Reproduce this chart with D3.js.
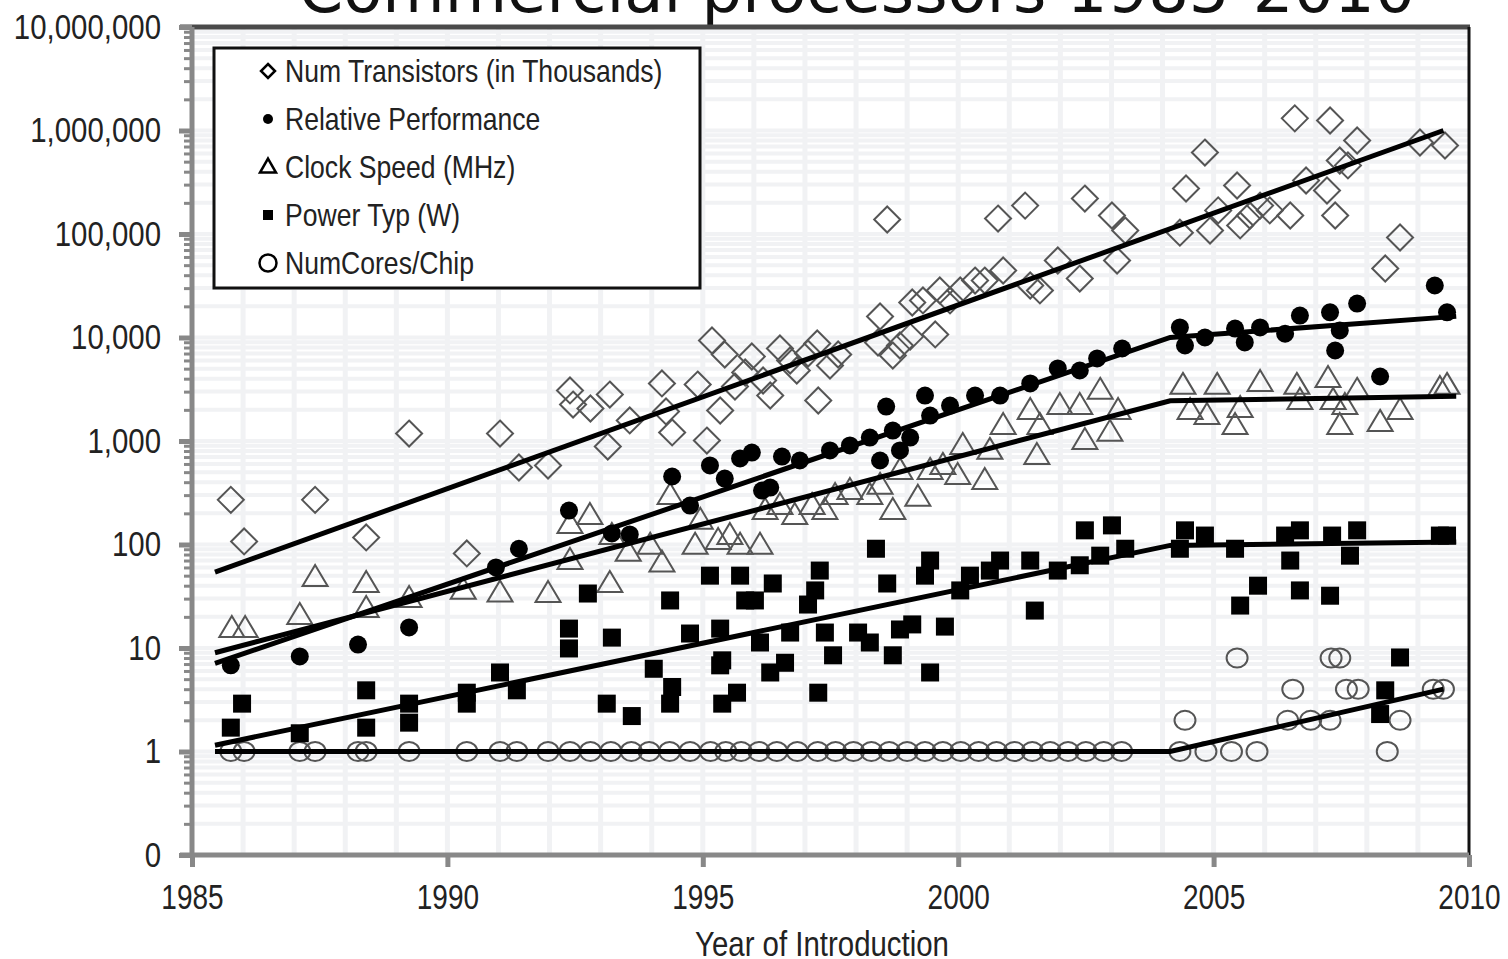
<!DOCTYPE html>
<html>
<head>
<meta charset="utf-8">
<script src="https://cdn.jsdelivr.net/npm/d3@7"></script>
<style>
  body { margin: 0; background: #fff; }
  .tick text { font-family: "Liberation Sans Narrow", "Arial Narrow", "Liberation Sans", sans-serif; }
</style>
</head>
<body>
<svg id="chart" width="1508" height="959"></svg>
<script>
// Data: [year, value]
const transistors = [
  [1985.76,270],[1986.02,107],[1987.41,270],[1988.41,117],[1989.25,1180],[1990.38,82],[1991.03,1180],
  [1991.4,555],[1991.97,580],[1992.4,3080],[1992.46,2250],[1992.8,2060],[1993.18,2810],[1993.14,885],
  [1993.57,1580],[1994.2,3600],[1994.28,1930],[1994.4,1210],[1994.9,3510],[1995.08,1010],[1995.18,9350],
  [1995.43,6850],[1995.34,1970],[1995.63,3360],[1995.83,4590],[1995.96,6550],[1996.18,3840],[1996.32,2750],
  [1996.51,7830],[1996.71,6000],[1996.84,4800],[1997.06,7000],[1997.24,8750],[1997.26,2460],[1997.49,5360],
  [1997.65,6850],[1998.43,8950],[1998.47,15950],[1998.61,138000],[1998.72,6700],[1998.86,8370],[1999.06,10200],
  [1999.1,21800],[1999.31,22800],[1999.55,10700],[1999.64,28500],[1999.84,22800],[2000.04,28500],[2000.33,35500],
  [2000.52,35500],[2000.78,141000],[2000.88,44400],[2001.31,188000],[2001.41,31800],[2001.6,28500],[2001.95,55500],
  [2002.38,37100],[2002.48,220000],[2003.01,151000],[2003.11,55500],[2003.27,108000],[2004.34,103000],
  [2004.46,275000],[2004.83,612000],[2004.93,108000],[2005.09,169000],[2005.46,294000],[2005.52,121000],
  [2005.71,151000],[2005.91,188000],[2006.1,169000],[2006.5,151000],[2006.59,1310000],[2006.81,329000],
  [2007.28,1250000],[2007.22,263000],[2007.38,151000],[2007.47,513000],[2007.81,800000],[2007.63,460000],
  [2008.36,46400],[2008.65,92500],[2009.04,766000],[2009.53,716000]
];
const performance = [
  [1985.76,6.8],[1987.11,8.3],[1988.25,10.8],[1989.25,15.8],[1990.95,60],[1991.4,91],[1992.38,213],
  [1993.22,128],[1993.57,125],[1994.4,454],[1994.75,238],[1995.14,580],[1995.43,434],[1995.73,678],
  [1995.96,774],[1996.16,332],[1996.32,355],[1996.55,708],[1996.9,648],[1997.49,810],[1997.88,905],
  [1998.27,1080],[1998.47,648],[1998.59,2150],[1998.72,1260],[1998.86,810],[1999.06,1080],[1999.35,2750],
  [1999.45,1760],[1999.84,2200],[2000.33,2750],[2000.82,2750],[2001.41,3600],[2001.95,5020],[2002.38,4800],
  [2002.72,6270],[2003.21,7830],[2004.34,12500],[2004.44,8370],[2004.83,10000],[2005.42,12200],[2005.61,8950],
  [2005.91,12500],[2006.4,10900],[2006.69,16300],[2007.28,17500],[2007.38,7490],[2007.47,11700],
  [2007.81,21300],[2008.26,4200],[2009.33,31800],[2009.57,17500]
];
const clockSpeed = [
  [1985.78,15.4],[1986.04,15.4],[1987.11,20.6],[1987.41,48],[1988.41,42],[1988.41,24],[1989.25,30],
  [1990.31,36],[1991.03,34],[1991.97,33.6],[1992.4,156],[1992.79,190],[1992.4,70],[1993.18,42],[1993.22,122],
  [1993.54,84],[1993.97,98],[1994.2,66],[1994.36,297],[1994.85,98],[1994.95,171],[1995.3,109],[1995.53,122],
  [1995.73,98],[1996.12,98],[1996.22,213],[1996.51,238],[1996.8,190],[1997.14,238],[1997.39,213],[1997.59,297],
  [1997.88,332],[1998.27,297],[1998.47,372],[1998.72,213],[1998.86,519],[1999.21,285],[1999.45,519],
  [1999.7,580],[1999.99,464],[2000.09,905],[2000.52,415],[2000.62,810],[2000.88,1410],[2001.41,1970],
  [2001.54,724],[2001.6,1410],[2001.99,2200],[2002.38,2200],[2002.48,1010],[2002.78,3080],[2002.97,1210],
  [2003.13,1970],[2004.4,3440],[2004.54,1970],[2004.87,1760],[2005.07,3440],[2005.42,1410],[2005.52,2060],
  [2005.91,3670],[2006.63,3440],[2006.69,2460],[2007.24,4010],[2007.34,2460],[2007.47,1410],[2007.57,2200],
  [2007.81,3080],[2008.26,1510],[2008.65,1970],[2009.43,3210],[2009.57,3440]
];
const power = [
  [1985.76,1.7],[1985.98,2.9],[1987.11,1.5],[1988.41,1.7],[1988.41,3.9],[1989.25,1.9],[1989.25,2.9],
  [1990.38,3.7],[1990.38,2.9],[1991.03,5.8],[1991.36,3.9],[1992.38,15.4],[1992.38,9.9],[1992.75,33.6],
  [1993.12,2.9],[1993.22,12.6],[1993.61,2.2],[1994.04,6.3],[1994.36,28.8],[1994.4,4.2],[1994.36,2.9],
  [1994.75,13.8],[1995.14,50],[1995.34,15.4],[1995.34,6.8],[1995.38,2.9],[1995.38,7.6],[1995.67,3.7],
  [1995.73,50],[1995.83,28.8],[1996.02,28.8],[1996.12,11.3],[1996.32,5.8],[1996.37,42],[1996.61,7.2],
  [1996.71,14.1],[1997.06,26.3],[1997.2,36],[1997.29,56],[1997.39,14.1],[1997.26,3.7],[1997.55,8.5],
  [1998.04,14.1],[1998.27,11.3],[1998.39,91],[1998.61,42],[1998.72,8.5],[1998.86,15.1],[1999.1,16.9],
  [1999.35,50],[1999.45,70],[1999.45,5.8],[1999.74,16.1],[2000.04,36],[2000.23,50],[2000.62,56],
  [2000.82,70],[2001.41,70],[2001.5,23],[2001.95,56],[2002.38,63],[2002.48,137],[2002.78,78],[2003.01,153],
  [2003.27,91],[2004.34,91],[2004.44,137],[2004.83,122],[2005.42,91],[2005.52,25.7],[2005.87,40],
  [2006.4,122],[2006.5,70],[2006.69,137],[2006.69,36],[2007.28,32],[2007.32,122],[2007.67,78],[2007.81,137],
  [2008.26,2.3],[2008.36,3.9],[2008.65,8.1],[2009.43,122],[2009.57,122]
];
const cores = [
  [1985.76,1],[1986.02,1],[1987.11,1],[1987.41,1],[1988.25,1],[1988.41,1],[1989.25,1],[1990.38,1],
  [1991.03,1],[1991.36,1],[1991.97,1],[1992.4,1],[1992.8,1],[1993.2,1],[1993.6,1],[1993.95,1],[1994.35,1],
  [1994.75,1],[1995.15,1],[1995.45,1],[1995.75,1],[1996.1,1],[1996.45,1],[1996.85,1],[1997.25,1],
  [1997.6,1],[1997.95,1],[1998.3,1],[1998.65,1],[1999.0,1],[1999.35,1],[1999.7,1],[2000.05,1],[2000.4,1],
  [2000.75,1],[2001.1,1],[2001.45,1],[2001.8,1],[2002.15,1],[2002.5,1],[2002.85,1],[2003.2,1],
  [2004.34,1],[2004.85,1],[2005.35,1],[2005.85,1],[2008.4,1],
  [2004.44,2],[2005.46,8],[2006.55,4],[2006.45,2],[2006.9,2],[2007.28,2],[2007.3,8],[2007.47,8],
  [2007.6,4],[2007.83,4],[2008.65,2],[2009.3,4],[2009.5,4]
];
// Trend lines
const transistorTrend = [[1985.45,54],[2009.5,1000000]];
const perfTrend = [[1985.45,7.1],[2004.15,10000],[2009.75,16000]];
const clockTrend = [[1985.45,9],[2004.15,2450],[2009.75,2700]];
const powerTrend = [[1985.45,1.15],[2004.15,98],[2009.75,106]];
const coresTrend = [[1985.45,1],[2004.15,1],[2009.5,4]];

const legendLabels = ["Num Transistors (in Thousands)", "Relative Performance", "Clock Speed (MHz)", "Power Typ (W)", "NumCores/Chip"];
const yTicks = [0.1, 1, 10, 100, 1000, 10000, 100000, 1000000, 10000000];
const xTicks = [1985, 1990, 1995, 2000, 2005, 2010];

const svg = d3.select("#chart");
const plotLeft = 192, plotRight = 1469, plotTop = 27, plotBottom = 855;
const narrowFont = "Liberation Sans Narrow, Arial Narrow, Liberation Sans, sans-serif";

// squeeze a text horizontally, as the narrow font in the original
function condense(sel, k) {
  sel.each(function () {
    const w = this.getComputedTextLength();
    d3.select(this).attr("textLength", w * k).attr("lengthAdjust", "spacingAndGlyphs");
  });
}

const x = d3.scaleLinear().domain([1985, 2010]).range([plotLeft, plotRight]);
const y = d3.scaleLog().domain([0.1, 1e7]).range([plotBottom, plotTop]);

// minor tick values 2..9 per decade
const minor = [];
for (let e = -1; e < 7; e++) for (let k = 2; k <= 9; k++) minor.push(k * Math.pow(10, e));

// Gridlines
const grid = svg.append("g").attr("stroke", "#f1f2f4");
grid.selectAll(".hg").data(minor.concat(yTicks)).enter().append("line")
  .attr("x1", plotLeft).attr("x2", plotRight)
  .attr("y1", d => y(d)).attr("y2", d => y(d))
  .attr("stroke-width", 4);
grid.selectAll(".vg").data(d3.range(1986, 2010)).enter().append("line")
  .attr("x1", d => x(d)).attr("x2", d => x(d))
  .attr("y1", plotTop).attr("y2", plotBottom)
  .attr("stroke-width", 5);

// Title
svg.append("text")
  .attr("x", 857).attr("y", 12)
  .attr("text-anchor", "middle")
  .attr("font-family", "DejaVu Sans, Verdana, sans-serif")
  .attr("font-size", 64)
  .attr("fill", "#111")
  .text("Commercial processors 1985-2010");

// Markers
const diamond = r => `M0,${-r}L${r},0L0,${r}L${-r},0Z`;
const triangle = (w, h) => `M0,${-h * 0.6}L${w / 2},${h * 0.4}L${-w / 2},${h * 0.4}Z`;
const pos = d => `translate(${x(d[0])},${y(d[1])})`;

svg.append("g").selectAll("path").data(transistors).enter().append("path")
  .attr("d", diamond(13)).attr("transform", pos)
  .attr("fill", "none").attr("stroke", "#555").attr("stroke-width", 2);

svg.append("g").selectAll("path").data(clockSpeed).enter().append("path")
  .attr("d", triangle(25, 21)).attr("transform", pos)
  .attr("fill", "none").attr("stroke", "#555").attr("stroke-width", 2);

svg.append("g").selectAll("ellipse").data(cores).enter().append("ellipse")
  .attr("cx", d => x(d[0])).attr("cy", d => y(d[1])).attr("rx", 10.5).attr("ry", 9.5)
  .attr("fill", "none").attr("stroke", "#555").attr("stroke-width", 2);

svg.append("g").selectAll("circle").data(performance).enter().append("circle")
  .attr("cx", d => x(d[0])).attr("cy", d => y(d[1])).attr("r", 9)
  .attr("fill", "#000");

svg.append("g").selectAll("rect").data(power).enter().append("rect")
  .attr("x", d => x(d[0]) - 9).attr("y", d => y(d[1]) - 9)
  .attr("width", 18).attr("height", 18)
  .attr("fill", "#000");

// Trend lines
const line = d3.line().x(d => x(d[0])).y(d => y(d[1]));
[transistorTrend, perfTrend, clockTrend, powerTrend, coresTrend].forEach(t => {
  svg.append("path").datum(t).attr("d", line)
    .attr("fill", "none").attr("stroke", "#000").attr("stroke-width", 5);
});

// Frame: top and right
svg.append("line").attr("x1", 180).attr("x2", plotRight + 1).attr("y1", plotTop).attr("y2", plotTop)
  .attr("stroke", "#4a4a4a").attr("stroke-width", 5);
svg.append("line").attr("x1", plotRight).attr("x2", plotRight).attr("y1", plotTop).attr("y2", plotBottom)
  .attr("stroke", "#111").attr("stroke-width", 3);

// Y axis
const yAxis = svg.append("g").attr("transform", `translate(${plotLeft},0)`)
  .call(d3.axisLeft(y).tickValues(yTicks).tickSize(13).tickPadding(18)
    .tickFormat(d => d < 1 ? "0" : d3.format(",")(d)));
svg.append("g").attr("transform", `translate(${plotLeft},0)`)
  .call(d3.axisLeft(y).tickValues(minor).tickSize(8).tickFormat(""))
  .call(g => g.select(".domain").remove())
  .selectAll("line").attr("stroke", "#888").attr("stroke-width", 3);
yAxis.select(".domain").attr("stroke", "#888").attr("stroke-width", 5).attr("d", `M0,${plotTop}V${plotBottom + 2}`);
yAxis.selectAll(".tick line").attr("stroke", "#888").attr("stroke-width", 5);
yAxis.selectAll(".tick text").attr("font-size", 35).attr("fill", "#222").call(condense, 0.84);

// X axis
const xAxis = svg.append("g").attr("transform", `translate(0,${plotBottom})`)
  .call(d3.axisBottom(x).tickValues(xTicks).tickSize(12).tickPadding(17).tickFormat(d3.format("d")));
xAxis.select(".domain").attr("stroke", "#888").attr("stroke-width", 5).attr("d", `M${plotLeft - 12},0H${plotRight}`);
xAxis.selectAll(".tick line").attr("stroke", "#888").attr("stroke-width", 5);
xAxis.selectAll(".tick text").attr("font-size", 35).attr("fill", "#222").call(condense, 0.8);

svg.append("text")
  .attr("x", 822).attr("y", 956)
  .attr("text-anchor", "middle")
  .attr("font-family", narrowFont)
  .attr("font-size", 35).attr("fill", "#222")
  .text("Year of Introduction")
  .call(condense, 0.84);

// Legend
const legend = svg.append("g");
legend.append("rect").attr("x", 214).attr("y", 48).attr("width", 486).attr("height", 240)
  .attr("fill", "#fff").attr("stroke", "#111").attr("stroke-width", 3);
const rowY = d3.scalePoint().domain(legendLabels).range([71, 263]);
const items = legend.selectAll(".item").data(legendLabels).enter().append("g")
  .attr("transform", d => `translate(268,${rowY(d)})`);
items.append("text")
  .attr("x", 17).attr("y", 11)
  .attr("font-family", narrowFont)
  .attr("font-size", 32).attr("fill", "#222")
  .text(d => d)
  .call(condense, 0.83);
items.filter((d, i) => i === 0).append("path").attr("d", diamond(7))
  .attr("fill", "none").attr("stroke", "#000").attr("stroke-width", 2.5);
items.filter((d, i) => i === 1).append("circle").attr("r", 5).attr("fill", "#000");
items.filter((d, i) => i === 2).append("path").attr("d", triangle(16, 14))
  .attr("fill", "none").attr("stroke", "#000").attr("stroke-width", 2.5);
items.filter((d, i) => i === 3).append("rect").attr("x", -5).attr("y", -5).attr("width", 10).attr("height", 10).attr("fill", "#000");
items.filter((d, i) => i === 4).append("circle").attr("r", 8.5)
  .attr("fill", "none").attr("stroke", "#000").attr("stroke-width", 2.5);
</script>
</body>
</html>
